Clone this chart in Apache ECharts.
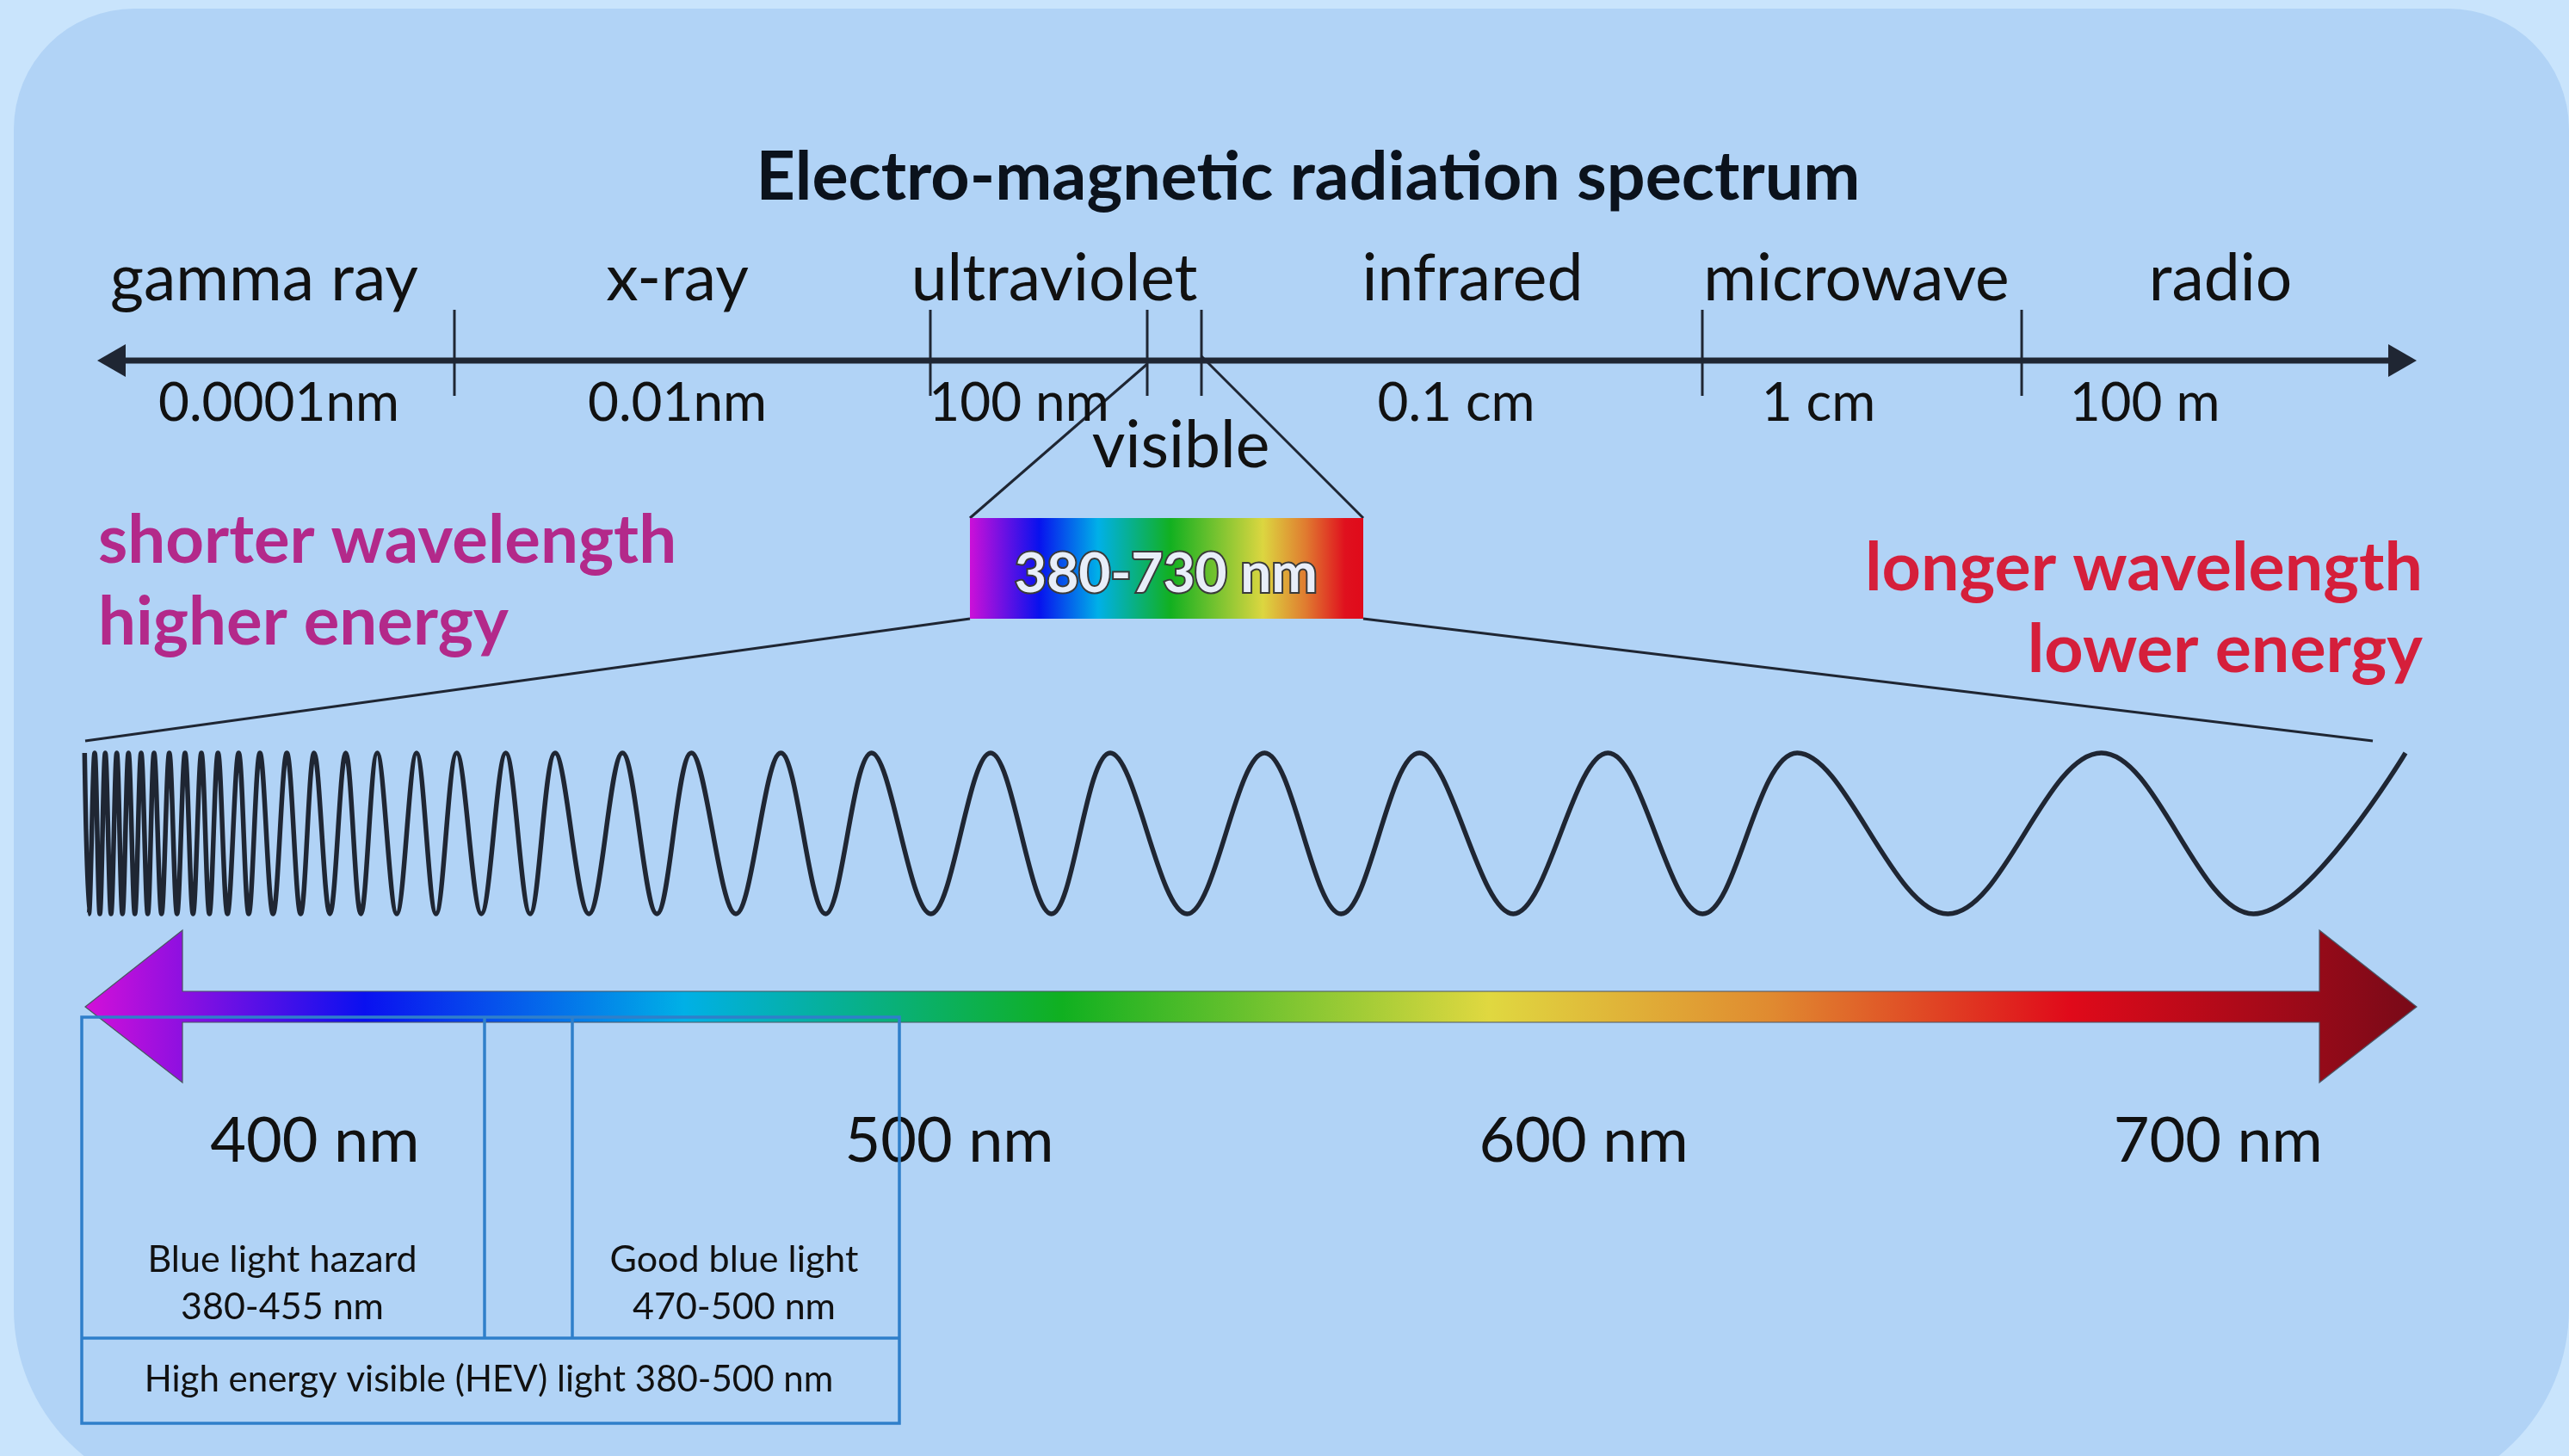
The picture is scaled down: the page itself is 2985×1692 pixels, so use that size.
<!DOCTYPE html>
<html><head><meta charset="utf-8">
<script src="https://cdn.jsdelivr.net/npm/echarts@6/dist/echarts.min.js"></script>
<style>html,body{margin:0;padding:0;background:#c9e4fc}#c{width:2985px;height:1692px}</style>
</head><body><div id="c"></div><script>
// ---------------- data ----------------
const chartTitle = 'Electro-magnetic radiation spectrum';
const bandNames = ['gamma ray', 'x-ray', 'ultraviolet', 'infrared', 'microwave', 'radio'];
const bandWavelengths = ['0.0001nm', '0.01nm', '100 nm', '0.1 cm', '1 cm', '100 m'];
const visibleName = 'visible';
const visibleRange = '380-730 nm';
const shortSide = ['shorter wavelength', 'higher energy'];
const longSide = ['longer wavelength', 'lower energy'];
const visibleTicksNm = [400, 500, 600, 700];
const visibleArrowNm = [363.8, 731.3];
const hazardText = ['Blue light hazard', '380-455 nm'];
const goodText = ['Good blue light', '470-500 nm'];
const hevText = 'High energy visible (HEV) light 380-500 nm';

// positions along the drawing (canvas units)
const bandNameX = [307, 787, 1225, 1711, 2157, 2580];
const bandWavelengthX = [324, 787, 1184, 1692, 2113, 2492];
const bandBoundaryX = [528, 1081, 1333, 1396, 1978, 2349];
const wavePeakX = [98.3, 110, 122.3, 135.7, 149.3, 164, 179, 196.7, 215, 234, 253.3, 277.3, 302, 333.3, 365,
  401.7, 438.3, 484, 530.7, 587.7, 645, 723.3, 803.3, 907.3, 1012.7, 1151, 1290, 1469.3, 1649.3, 1868.3,
  2088.3, 2441.7, 2795];
const waveTroughX = [103.3, 116, 129, 142.3, 156.7, 171.7, 187.7, 205.7, 224.3, 243.3, 264.3, 289, 317.3,
  349.3, 383.3, 419.3, 461, 506.7, 559.3, 616, 684.3, 763.3, 855, 959.3, 1081.7, 1221.7, 1379.3, 1558.3,
  1758.3, 1978.3, 2263.3, 2618.3];

// ---------------- layout & style ----------------
const W = 2985, H = 1692;
const FONT = 'Lato, "Open Sans", sans-serif';
const INK = '#1f2633';
const waveCrestY = 875, waveTroughY = 1062;
const axisY = 419;

const waveData = wavePeakX.map(x => [x, waveCrestY]).concat(waveTroughX.map(x => [x, waveTroughY]))
  .sort((a, b) => a[0] - b[0]);

function baseY(baseline, fs) { return baseline - 0.32 * fs; }

const labels = [];
labels.push({x: 1520, y: baseY(232, 79), text: chartTitle, font: 'bold 79px ' + FONT, fill: '#0b121c'});
bandNames.forEach((t, i) => labels.push({x: bandNameX[i], y: baseY(349, 75), text: t, font: '75px ' + FONT, fill: '#111'}));
bandWavelengths.forEach((t, i) => labels.push({x: bandWavelengthX[i], y: baseY(489, 62), text: t, font: '62px ' + FONT, fill: '#111'}));
labels.push({x: 1372, y: baseY(543, 75), text: visibleName, font: '75px ' + FONT, fill: '#111'});
labels.push({x: 1355, y: baseY(688, 64), text: visibleRange, font: 'bold 64px ' + FONT, fill: '#e8eef9', stroke: '#3a3a3a', lineWidth: 4});
shortSide.forEach((t, i) => labels.push({x: 114, y: baseY([654, 749][i], 78), text: t, font: 'bold 78px ' + FONT, fill: '#b3298a', align: 'left'}));
longSide.forEach((t, i) => labels.push({x: 2815, y: baseY([686, 781][i], 79), text: t, font: 'bold 79px ' + FONT, fill: '#d51f3b', align: 'right'}));
hazardText.forEach((t, i) => labels.push({x: 328, y: baseY([1478, 1533][i], 43), text: t, font: '43px ' + FONT, fill: '#111'}));
goodText.forEach((t, i) => labels.push({x: 853, y: baseY([1478, 1533][i], 43), text: t, font: '43px ' + FONT, fill: '#111'}));
labels.push({x: 568, y: baseY(1617, 42), text: hevText, font: '42px ' + FONT, fill: '#111'});

const rainbowBox = [
  {offset: 0, color: '#cc10d8'}, {offset: 0.176, color: '#0812ee'}, {offset: 0.326, color: '#00b0e8'},
  {offset: 0.51, color: '#12b020'}, {offset: 0.745, color: '#dcd640'}, {offset: 0.853, color: '#e07c30'},
  {offset: 0.954, color: '#e0101e'}, {offset: 1, color: '#e00a1a'}];
const rainbowArrow = [
  {offset: 0, color: '#d410d8'}, {offset: 0.12, color: '#0a10f0'}, {offset: 0.257, color: '#00b0e6'},
  {offset: 0.419, color: '#10b020'}, {offset: 0.602, color: '#e0d840'}, {offset: 0.723, color: '#e08a30'},
  {offset: 0.851, color: '#e00a1a'}, {offset: 1, color: '#780a18'}];

const chart = echarts.init(document.getElementById('c'), null, {renderer: 'canvas'});

function decor(params, api) {
  const c = (x, y) => api.coord([x, y]);
  const line = (a, b, w, col) => ({type: 'line', shape: {x1: c(...a)[0], y1: c(...a)[1], x2: c(...b)[0], y2: c(...b)[1]},
    style: {stroke: col, lineWidth: w}});
  const poly = (pts, style) => ({type: 'polygon', shape: {points: pts.map(p => c(p[0], p[1]))}, style});
  const ch = [];
  // top wavelength axis
  ch.push(line([140, axisY], [2780, axisY], 7, INK));
  ch.push(poly([[113, axisY], [146, axisY - 19], [146, axisY + 19]], {fill: INK}));
  ch.push(poly([[2808, axisY], [2775, axisY - 19], [2775, axisY + 19]], {fill: INK}));
  bandBoundaryX.forEach(x => ch.push(line([x, 360], [x, 460], 3, INK)));
  // zoom lines to visible box
  ch.push(line([1333, 423], [1127, 602], 3, INK));
  ch.push(line([1396, 414], [1584, 602], 3, INK));
  ch.push(line([1127, 719], [99, 861], 3, INK));
  ch.push(line([1584, 719], [2757, 861], 3, INK));
  const p0 = c(1127, 602), p1 = c(1584, 719);
  ch.push({type: 'rect', shape: {x: p0[0], y: p0[1], width: p1[0] - p0[0], height: p1[1] - p0[1]},
    style: {fill: new echarts.graphic.LinearGradient(0, 0, 1, 0, rainbowBox)}});
  // coloured double arrow
  ch.push(poly([[99, 1170], [212, 1081], [212, 1152], [2695, 1152], [2695, 1081], [2808, 1170], [2695, 1258],
    [2695, 1188], [212, 1188], [212, 1258]],
    {fill: new echarts.graphic.LinearGradient(0, 0, 1, 0, rainbowArrow), stroke: '#4b5563', lineWidth: 1.2}));
  // blue boxes
  const B = '#2f7fca';
  const r0 = c(95, 1182), r1 = c(1045, 1654);
  ch.push({type: 'rect', shape: {x: r0[0], y: r0[1], width: r1[0] - r0[0], height: r1[1] - r0[1]}, style: {fill: null, stroke: B, lineWidth: 3.5}});
  ch.push(line([95, 1555], [1045, 1555], 3.5, B));
  ch.push(line([563, 1182], [563, 1555], 3.5, B));
  ch.push(line([665, 1182], [665, 1555], 3.5, B));
  return {type: 'group', children: ch};
}

function panel(params, api) {
  const a = api.coord([16, 10]);
  return {type: 'rect', shape: {x: a[0], y: a[1], width: 2969, height: 1731, r: [140, 140, 220, 220]},
    style: {fill: '#b1d3f6'}};
}

function textItem(params, api) {
  const L = labels[params.dataIndex];
  const p = api.coord([api.value(0), api.value(1)]);
  return {type: 'text', x: p[0], y: p[1], style: {text: L.text, font: L.font, fill: L.fill,
    align: L.align || 'center', verticalAlign: 'middle', stroke: L.stroke || null, lineWidth: L.lineWidth || 0,
    strokeFirst: true}};
}

chart.setOption({
  animation: false,
  backgroundColor: '#c9e4fc',
  grid: [
    {left: 0, right: 0, top: 0, bottom: 0, containLabel: false},
    {left: 99, right: W - 2808, top: 1190, height: 10, containLabel: false}
  ],
  xAxis: [
    {type: 'value', min: 0, max: W, show: false, gridIndex: 0},
    {type: 'value', gridIndex: 1, min: visibleArrowNm[0], max: visibleArrowNm[1],
      axisLine: {show: false}, axisTick: {show: false}, splitLine: {show: false},
      axisLabel: {customValues: visibleTicksNm, formatter: '{value} nm', fontSize: 72, fontFamily: FONT,
        color: '#111', margin: 127, verticalAlign: 'middle', showMinLabel: true, showMaxLabel: true}}
  ],
  yAxis: [
    {type: 'value', min: 0, max: H, inverse: true, show: false, gridIndex: 0},
    {type: 'value', gridIndex: 1, min: 0, max: 1, show: false}
  ],
  series: [
    {type: 'custom', name: 'panel', xAxisIndex: 0, yAxisIndex: 0, renderItem: panel, data: [[0, 0]], silent: true, z: 0},
    {type: 'custom', name: 'decor', xAxisIndex: 0, yAxisIndex: 0, renderItem: decor, data: [[0, 0]], silent: true, z: 2},
    {type: 'line', name: 'wave', xAxisIndex: 0, yAxisIndex: 0, data: waveData, smooth: 0.36, showSymbol: false,
      symbol: 'none', lineStyle: {color: INK, width: 5.5}, silent: true, z: 3},
    {type: 'custom', name: 'labels', xAxisIndex: 0, yAxisIndex: 0, renderItem: textItem,
      data: labels.map(l => [l.x, l.y]), silent: true, z: 5}
  ]
});
</script></body></html>
